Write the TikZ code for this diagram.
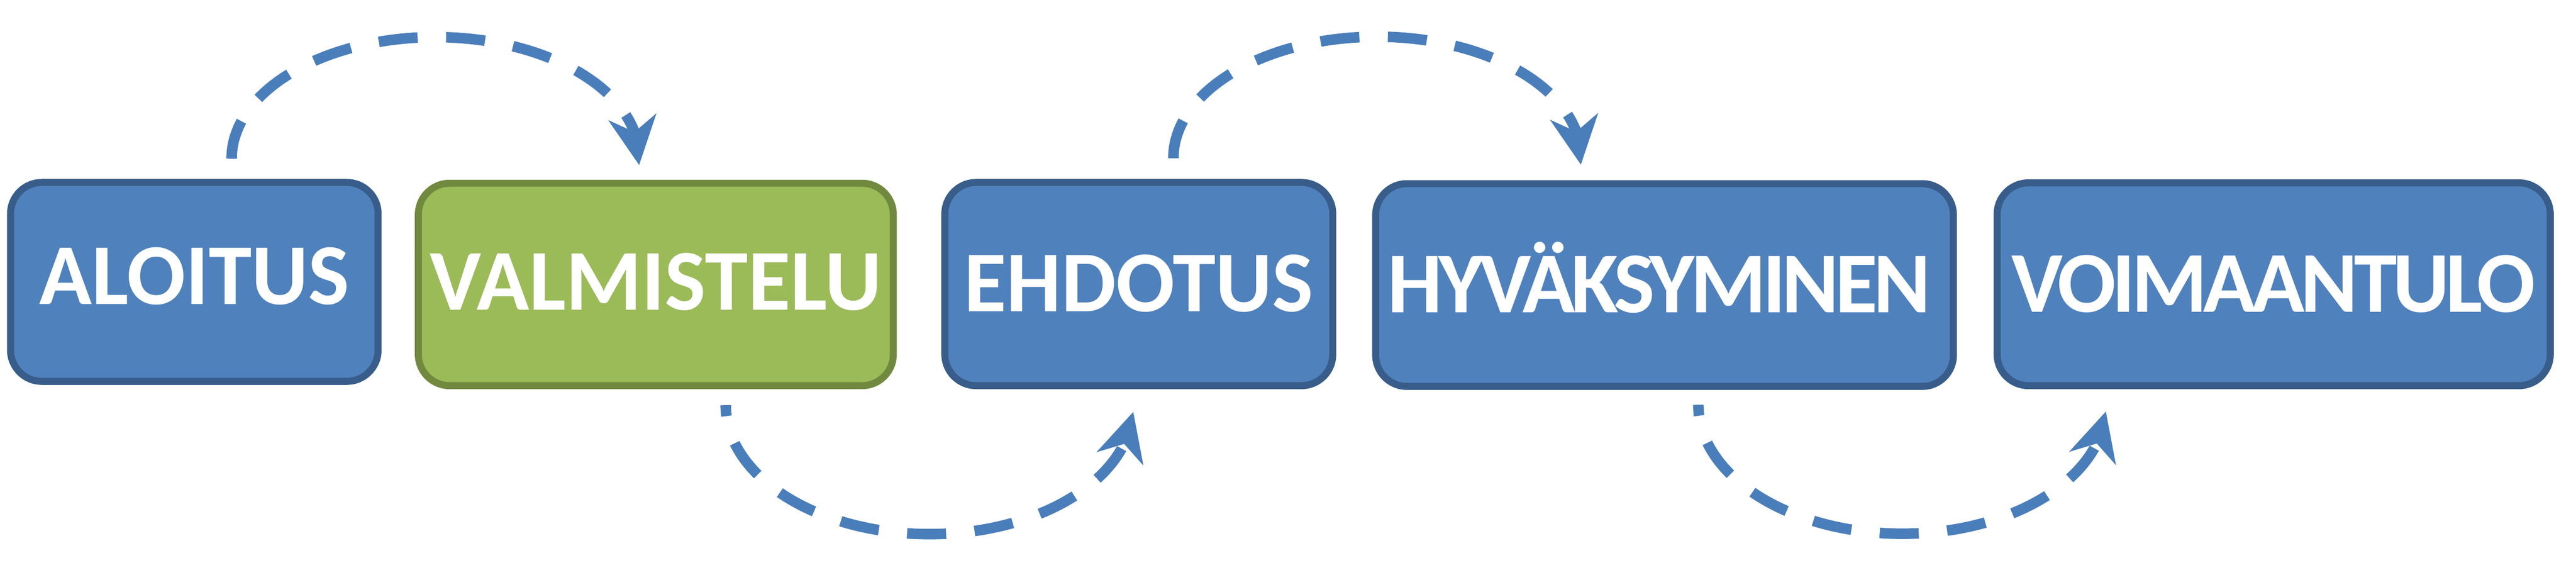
\documentclass[tikz,border=0pt]{standalone}
\usepackage{fontspec}
\setmainfont{Carlito}
\newfontfamily\tightfont[LetterSpace=-4.5]{Carlito}
\usetikzlibrary{arrows.meta,bending,calc}
\definecolor{bfill}{HTML}{4F81BD}
\definecolor{bline}{HTML}{385D8A}
\definecolor{gfill}{HTML}{9BBB59}
\definecolor{gline}{HTML}{71893F}
\definecolor{arr}{HTML}{4A7EBB}
\tikzset{
  stage/.style={rectangle, rounded corners=0.8cm, line width=0.18cm, draw=bline, fill=bfill,
    text=white, font=\fontsize{63.2pt}{70pt}\selectfont\bfseries, inner sep=0pt,
    text height=1.41cm, text depth=0pt, minimum height=5.19cm, align=center},
  greenstage/.style={stage, draw=gline, fill=gfill},
  flow/.style={draw=arr, line width=0.27cm, dash pattern=on 1cm off 0.73cm,
    -{Stealth[length=1.25cm,width=1.25cm,inset=0.4cm,line width=0pt]}},
}
\begin{document}
\begin{tikzpicture}
\useasboundingbox (0,0) rectangle (65.95,-14.58);
\node[stage, minimum width=9.41cm, minimum height=5.09cm, text depth=0.26cm] (alo) at (4.975,-7.215) {ALOITUS};
\node[greenstage, minimum width=12.16cm, minimum height=5.18cm, text depth=0.11cm] (val) at (16.79,-7.28) {VALMISTELU};
\node[stage, minimum width=9.93cm, minimum height=5.20cm] (ehd) at (29.155,-7.27) {EHDOTUS};
\node[stage, minimum width=14.79cm, minimum height=5.19cm] (hyv) at (42.615,-7.295) {{\tightfont\bfseries HYVÄKSYMINEN}\hspace{0.28cm}};
\node[stage, minimum width=14.16cm, minimum height=5.19cm] (voi) at (58.21,-7.275) {{\tightfont\bfseries VOIMAANTULO}};

\coordinate (s1) at ($(alo.north)+(0.955,0.52)$);
\coordinate (s2) at ($(val.south)+(1.79,-0.41)$);
\coordinate (s3) at ($(ehd.north)+(0.885,0.53)$);
\coordinate (s4) at ($(hyv.south)+(0.865,-0.38)$);

\draw[flow] (s1) arc[start angle=180, end angle=-3, x radius=5.22, y radius=3.11];
\draw[flow, dash phase=0.72cm] (s2) arc[start angle=180, end angle=357, x radius=5.22, y radius=3.30];
\draw[flow] (s3) arc[start angle=180, end angle=-3, x radius=5.22, y radius=3.11];
\draw[flow, dash phase=0.72cm] (s4) arc[start angle=180, end angle=357, x radius=5.22, y radius=3.30];
\end{tikzpicture}
\end{document}
